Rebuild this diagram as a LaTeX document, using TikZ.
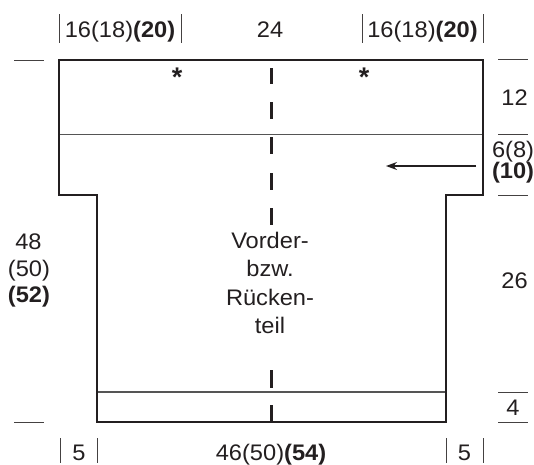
\documentclass[tikz,border=0pt]{standalone}
\usepackage{fontspec}
\setmainfont{Liberation Sans}
\usepackage{graphicx}
\usetikzlibrary{arrows.meta}
\definecolor{ink}{HTML}{231F20}
\definecolor{linegray}{HTML}{555555}
\newcommand{\hs}[1]{\scalebox{1.05}[1]{#1}}
\begin{document}
\begin{tikzpicture}[x=1pt,y=-1pt,
  every node/.style={inner sep=0pt, outer sep=0pt, text=ink, font=\fontsize{22.5}{26}\selectfont},
  lbl/.style={anchor=base},
  star/.style={anchor=base, font=\fontsize{27}{30}\selectfont\bfseries},
  outline/.style={draw=ink, line width=2.7pt, line join=miter},
  thinline/.style={draw=linegray, line width=1.2pt},
  dimline/.style={draw=ink!85, line width=1pt},
  cdash/.style={draw=ink, line width=3pt},
  arr/.style={draw=ink, line width=1.2pt, -{Stealth[length=11pt,width=8pt]}}]
\useasboundingbox (0,0) rectangle (534,464);
\fill[white] (0,0) rectangle (534,464);

% corners of the piece
\coordinate (a1) at (59,60);
\coordinate (a2) at (483,60);
\coordinate (a3) at (483,195);
\coordinate (a4) at (446,195);
\coordinate (a5) at (446,422);
\coordinate (a6) at (97,422);
\coordinate (a7) at (97,195);
\coordinate (a8) at (59,195);

% inner thin lines
\coordinate (l1) at (59,134.5);
\coordinate (r1) at (483,134.5);
\coordinate (l2) at (97,392);
\coordinate (r2) at (446,392);
\draw[thinline] (l1) -- (r1);
\draw[thinline] (l2) -- (r2);

% outline
\draw[outline] (a1) -- (a2) -- (a3) -- (a4) -- (a5) -- (a6) -- (a7) -- (a8) -- cycle;

% centre dashed line
\foreach \a/\b in {68/84,102/119,137/154,173/190,208/225,370/388,405/422}{
  \draw[cdash] (271,\a) -- (271,\b);
}

% asterisks
\node[star] (st1) at (177,86) {*};
\node[star] (st2) at (364,86) {*};

% arrow
\coordinate (arrS) at (476,166);
\coordinate (arrE) at (386,166);
\draw[arr] (arrS) -- (arrE);

% centre text
\node[lbl] (t1) at (270,248) {\hs{Vorder-}};
\node[lbl] (t2) at (270,276) {\hs{bzw.}};
\node[lbl] (t3) at (270,305) {\hs{Rücken-}};
\node[lbl] (t4) at (270,333) {\hs{teil}};

% top dimensions
\foreach \x in {59,181,362,483}{
  \draw[dimline] (\x,14) -- (\x,43);
}
\node[lbl] (top1) at (120,37) {\hs{16(18)\textbf{(20)}}};
\node[lbl] (top2) at (270,37) {\hs{24}};
\node[lbl] (top3) at (422.5,37) {\hs{16(18)\textbf{(20)}}};

% bottom dimensions
\foreach \x in {60,97.5,446,483}{
  \draw[dimline] (\x,438) -- (\x,463);
}
\node[lbl] (bot1) at (79,460) {\hs{5}};
\node[lbl] (bot2) at (271,460) {\hs{46(50)\textbf{(54)}}};
\node[lbl] (bot3) at (464.5,460) {\hs{5}};

% left dimension
\draw[dimline] (14,60) -- (44,60);
\draw[dimline] (14,422) -- (44,422);
\node[lbl] (lf1) at (28.5,249) {\hs{48}};
\node[lbl] (lf2) at (29,276) {\hs{(50)}};
\node[lbl] (lf3) at (29,302) {\hs{\textbf{(52)}}};

% right dimensions
\foreach \y in {59.5,134.5,195,392,422}{
  \draw[dimline] (498,\y) -- (528,\y);
}
\node[lbl] (rt1) at (514.5,105) {\hs{12}};
\node[lbl] (rt2) at (513,157) {\hs{6(8)}};
\node[lbl] (rt3) at (513,178) {\hs{\textbf{(10)}}};
\node[lbl] (rt4) at (514.5,288) {\hs{26}};
\node[lbl] (rt5) at (513,415) {\hs{4}};
\end{tikzpicture}
\end{document}
